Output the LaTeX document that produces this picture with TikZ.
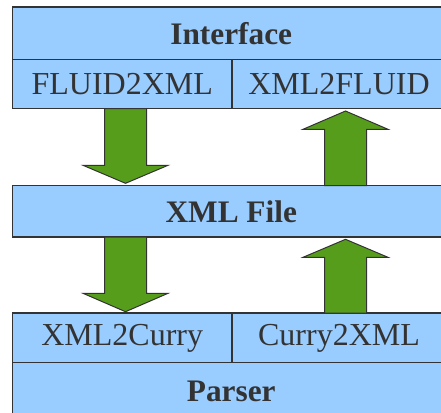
\documentclass[tikz,border=0pt]{standalone}
\usepackage{fontspec}
\setmainfont{Liberation Serif}
\definecolor{boxblue}{RGB}{153,204,255}
\definecolor{arrowgreen}{RGB}{87,157,28}
\definecolor{inkgray}{RGB}{51,51,51}
\tikzset{
  layer/.style={draw=inkgray, fill=boxblue, line width=0.9pt},
  bigarrow/.style={draw=inkgray, fill=arrowgreen, line width=0.75pt, line join=miter},
  title/.style={text=inkgray, font=\fontsize{23.5}{28}\selectfont\bfseries, inner sep=0pt},
  part/.style={text=inkgray, font=\fontsize{24}{28}\selectfont, inner sep=0pt}
}
\begin{document}
\begin{tikzpicture}[x=0.75pt,y=0.75pt,yscale=-1]
\clip (0,0) rectangle (441,412);

%Shape: Rectangle [Interface]
\draw [layer] (12.5,7) rectangle (450,59.5) node [midway, title] (iface) {Interface};
%Shape: Rectangle [FLUID2XML]
\draw [layer] (12.5,59.5) rectangle (232,108.5) node [midway, part] (fluidxml) {FLUID2XML};
%Shape: Rectangle [XML2FLUID]
\draw [layer] (232,59.5) rectangle (450,108.5) node [midway, part, xshift=-1.5pt] (xmlfluid) {XML2FLUID};

%Shape: Rectangle [XML File]
\draw [layer] (12.5,185.7) rectangle (450,237) node [midway, title] (xmlfile) {XML File};

%Shape: Rectangle [XML2Curry]
\draw [layer] (12.5,313) rectangle (232,362.7) node [midway, part] (xmlcurry) {XML2Curry};
%Shape: Rectangle [Curry2XML]
\draw [layer] (232,313) rectangle (450,362.7) node [midway, part, xshift=-1.5pt] (curryxml) {Curry2XML};
%Shape: Rectangle [Parser]
\draw [layer] (12.5,362.7) rectangle (450,422) node [midway, title, yshift=0.5pt] (parser) {Parser};

%Shape: Down Arrow
\draw [bigarrow] (104.5,108.5) -- (146.5,108.5) -- (146.5,165.3) -- (168,165.3) -- (125.5,183.3) -- (83,165.3) -- (104.5,165.3) -- cycle ;
%Shape: Up Arrow
\draw [bigarrow] (324.5,185.7) -- (366.5,185.7) -- (366.5,129.3) -- (388,129.3) -- (345.5,111) -- (303,129.3) -- (324.5,129.3) -- cycle ;
%Shape: Down Arrow
\draw [bigarrow] (104.5,237) -- (146.5,237) -- (146.5,293.3) -- (168,293.3) -- (125.5,311.7) -- (83,293.3) -- (104.5,293.3) -- cycle ;
%Shape: Up Arrow
\draw [bigarrow] (324.5,313) -- (366.5,313) -- (366.5,257.3) -- (388,257.3) -- (345.5,239.3) -- (303,257.3) -- (324.5,257.3) -- cycle ;
\end{tikzpicture}
\end{document}
